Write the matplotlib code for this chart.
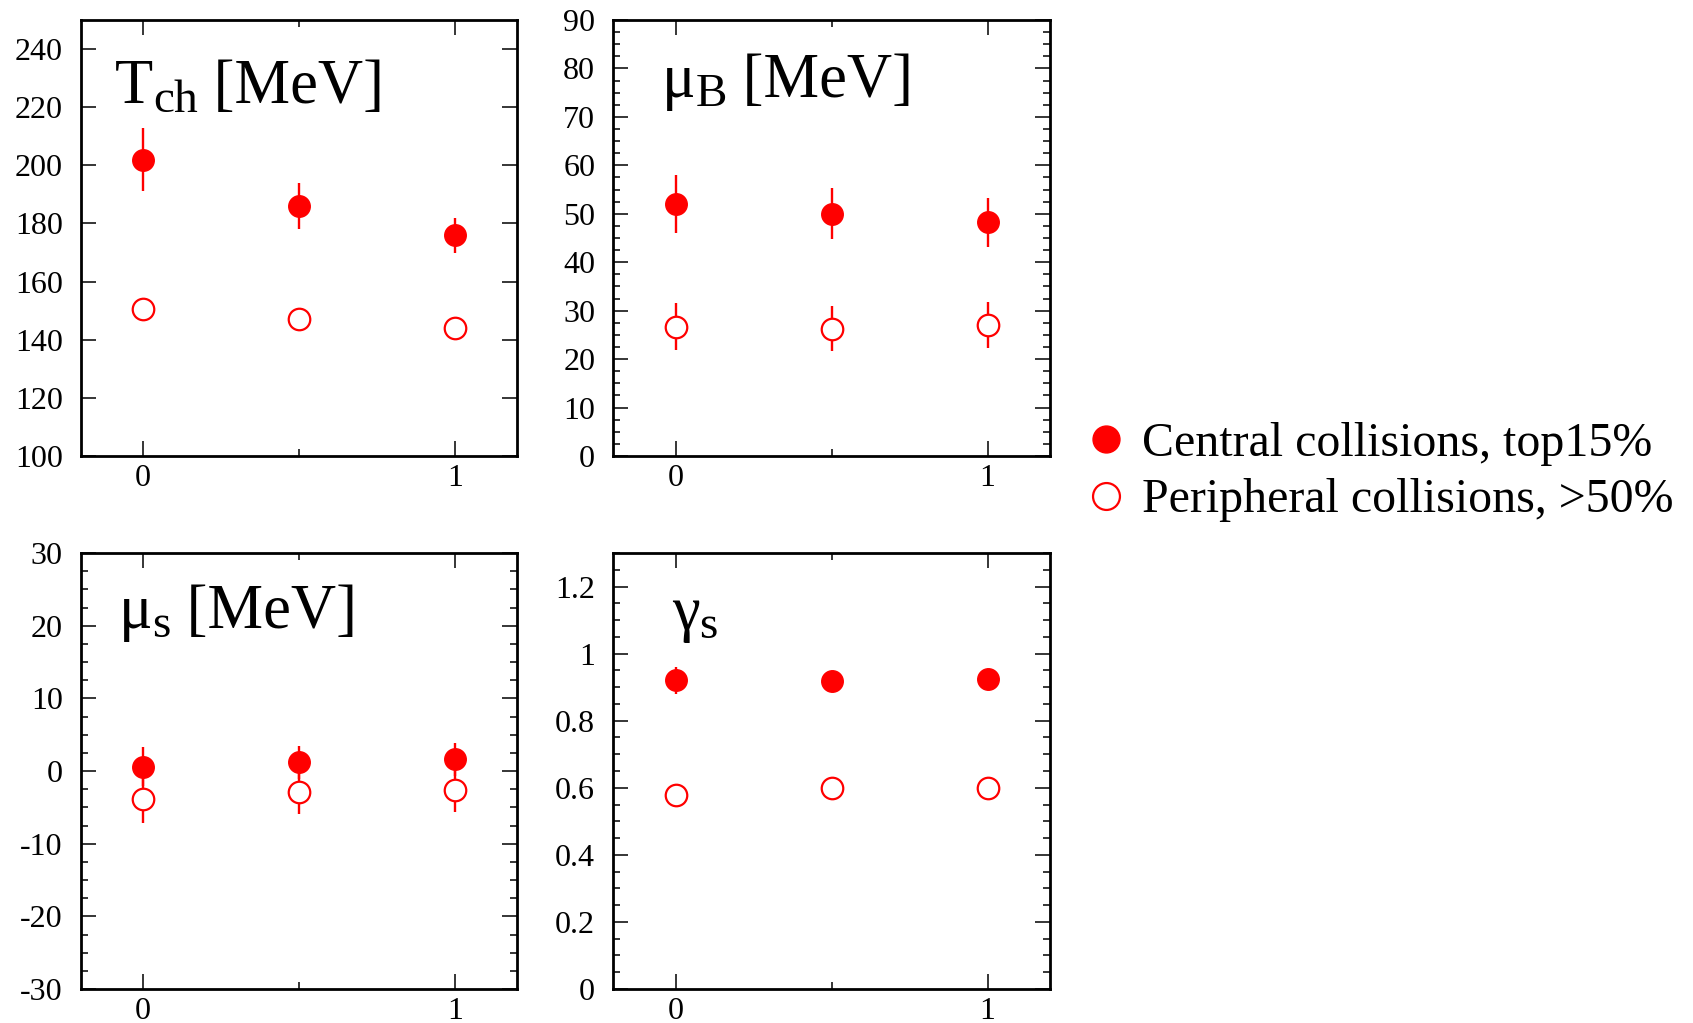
import matplotlib
matplotlib.use("Agg")
import matplotlib.pyplot as plt
from matplotlib.ticker import MultipleLocator, FormatStrFormatter, NullLocator
from matplotlib.transforms import offset_copy

plt.rcParams.update({
    "font.family": ["Liberation Serif", "DejaVu Serif"],
    "axes.unicode_minus": False,
})

# ---- data -----------------------------------------------------------------------
x = [0, 0.5, 1]
labels = ["Central collisions, top15%", "Peripheral collisions, >50%"]

tch_c = [202, 186, 176];        tch_c_err = [11, 8, 6]
tch_p = [150.5, 147, 144];      tch_p_err = [2, 2, 2]
mub_c = [52, 50, 48.2];         mub_c_err = [6, 5.3, 5]
mub_p = [26.7, 26.3, 27];       mub_p_err = [4.8, 4.7, 4.8]
mus_c = [0.6, 1.2, 1.6];        mus_c_err = [2.7, 2.3, 2.3]
mus_p = [-3.8, -2.9, -2.6];     mus_p_err = [3.3, 3.0, 3.0]
gam_c = [0.92, 0.917, 0.923];   gam_c_err = [0.04, 0.03, 0.03]
gam_p = [0.579, 0.6, 0.6];      gam_p_err = [0.02, 0.02, 0.02]

RED = "#ff0000"
W, H = 1693, 1023


def rect(l, t, r, b):                                    # pixel box -> fig fraction
    return [l / W, 1 - b / H, (r - l) / W, (b - t) / H]


def title(ax, tx, ty, main, sub, rest=""):
    # main symbol, bigger-than-mathtext subscript, then the unit, chained in pixels
    r = fig.canvas.get_renderer()
    off = 0
    for s, size, dy in ((main, 45, 0), (sub, 34, -9), (rest, 45, 0)):
        if not s:
            continue
        tr = offset_copy(ax.transAxes, fig=fig, x=off, y=dy, units="dots")
        t = ax.text(tx, ty, s, transform=tr, fontsize=size, va="baseline", ha="left")
        off += t.get_window_extent(r).width


def panel(ax, yc, ec, yp, ep, ylim, major, minor):
    hc = ax.errorbar(x, yc, yerr=ec, fmt="o", color=RED, ms=15.5, mew=1,
                     elinewidth=1.7, capsize=0, zorder=3)
    hp = ax.errorbar(x, yp, yerr=ep, fmt="o", color=RED, mfc="white", mec=RED,
                     ms=15.5, mew=1.6, elinewidth=1.7, capsize=0, zorder=4)
    ax.set_xlim(-0.2, 1.2); ax.set_ylim(*ylim)
    ax.xaxis.set_major_locator(MultipleLocator(1))
    ax.xaxis.set_minor_locator(MultipleLocator(0.5))
    ax.yaxis.set_major_locator(MultipleLocator(major))
    ax.yaxis.set_minor_locator(MultipleLocator(minor) if minor else NullLocator())
    ax.yaxis.set_major_formatter(FormatStrFormatter("%g"))
    ax.xaxis.set_major_formatter(FormatStrFormatter("%g"))
    ax.tick_params(which="both", direction="in", top=True, right=True, width=1.1,
                   labelsize=23)
    ax.tick_params(which="major", length=10.5)
    ax.tick_params(which="minor", length=5)
    ax.tick_params(axis="y", pad=13)
    ax.tick_params(axis="x", pad=6)
    for s in ax.spines.values():
        s.set_linewidth(2)
    return hc, hp


fig = plt.figure(figsize=(W / 100, H / 100), dpi=100)
ax1 = fig.add_axes(rect(80.7, 20, 517.3, 456))
ax2 = fig.add_axes(rect(613.3, 20, 1050, 456))
ax3 = fig.add_axes(rect(80.7, 553, 517.3, 989))
ax4 = fig.add_axes(rect(613.3, 553, 1050, 989))

hc, hp = panel(ax1, tch_c, tch_c_err, tch_p, tch_p_err, (100, 250), 20, None)
panel(ax2, mub_c, mub_c_err, mub_p, mub_p_err, (0, 90), 10, 2.5)
panel(ax3, mus_c, mus_c_err, mus_p, mus_p_err, (-30, 30), 10, 2.5)
panel(ax4, gam_c, gam_c_err, gam_p, gam_p_err, (0, 1.3), 0.2, 0.05)

title(ax1, 0.079, 0.809, "T", "ch", " [MeV]")
title(ax2, 0.111, 0.824, "μ", "B", " [MeV]")
title(ax3, 0.087, 0.828, "μ", "s", " [MeV]")
title(ax4, 0.134, 0.826, "γ", "s")

fig.legend([hc[0], hp[0]], labels, loc="center left",
           bbox_to_anchor=(1087 / W, 1 - 472 / H), frameon=False, fontsize=34.5,
           markerscale=1.25, handlelength=0.8, handletextpad=0.35, borderpad=0,
           borderaxespad=0, labelspacing=0.27)

fig.savefig("out.png", dpi=100)
